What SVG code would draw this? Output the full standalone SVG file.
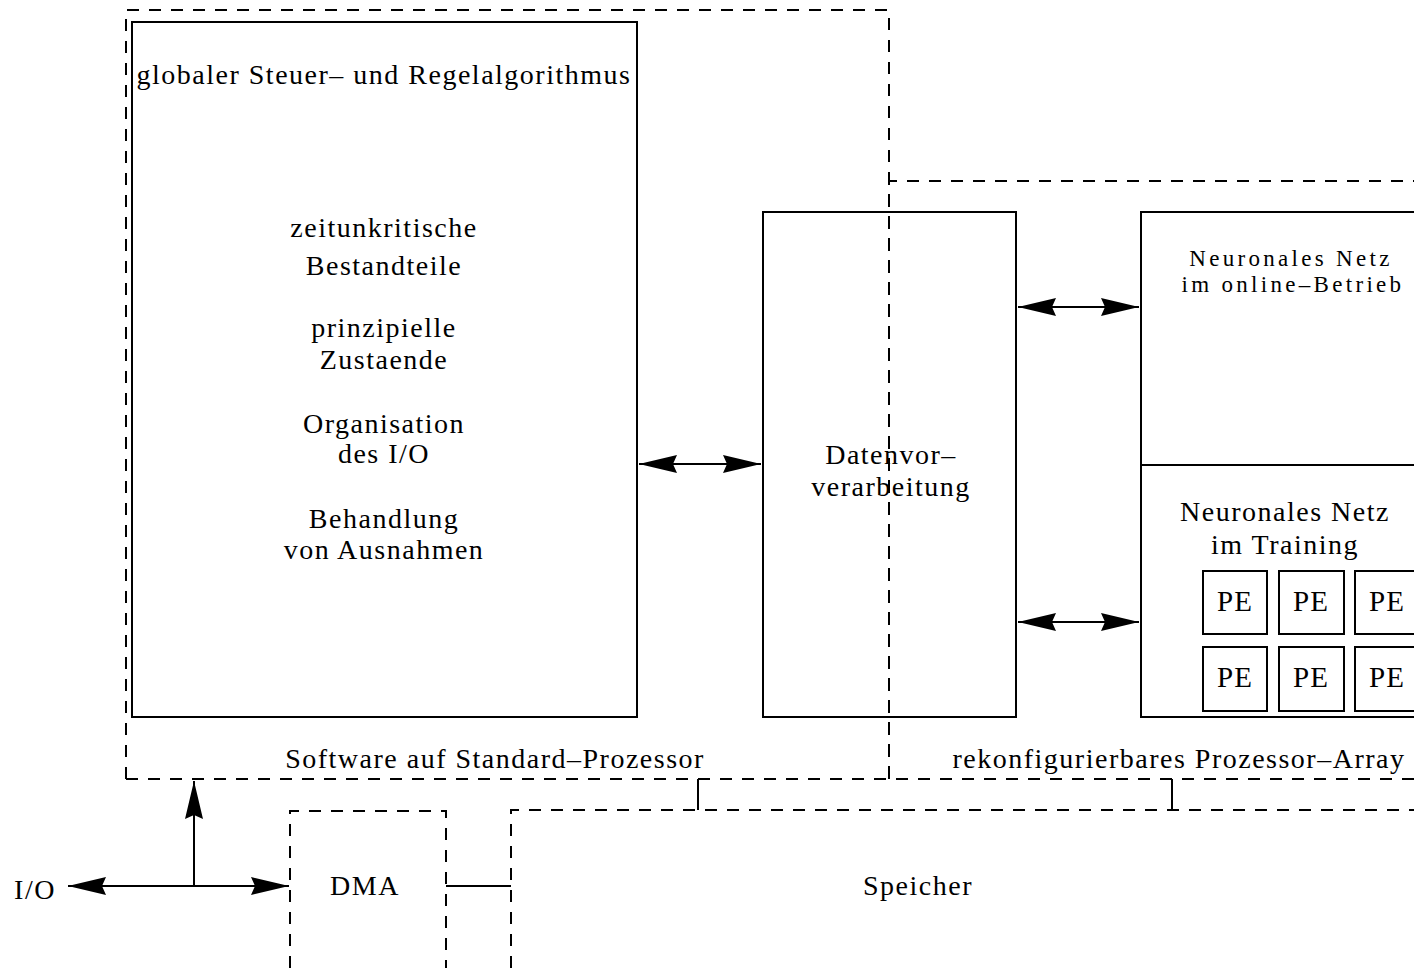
<svg xmlns="http://www.w3.org/2000/svg" width="1414" height="968" viewBox="0 0 1414 968">
<style>
.box{fill:none;stroke:#000;stroke-width:2}
.dash{fill:none;stroke:#000;stroke-width:2;stroke-dasharray:12 10}
.ln{fill:none;stroke:#000;stroke-width:2}
text{font-family:"Liberation Serif","DejaVu Serif",serif;font-size:28px;letter-spacing:1.5px;fill:#000;text-anchor:middle}
.sm{font-size:23px;letter-spacing:3.3px}
.pe{font-size:29px;letter-spacing:1px}
</style>
<defs>
<marker id="ah" viewBox="-40 -11 42 22" markerUnits="userSpaceOnUse" markerWidth="42" markerHeight="22" refX="0" refY="0" orient="auto-start-reverse">
<path d="M0,0 L-38,-9 L-34,0 L-38,9 Z" fill="#000"/>
</marker>
</defs>
<rect width="1414" height="968" fill="#fff"/>
<g id="software">
<path class="dash" d="M126,779 L126,10 L889,10 L889,779"/>
<text x="495" y="768">Software auf Standard–Prozessor</text>
</g>
<g id="array">
<path class="dash" d="M889,779 L889,181 L1414,181"/>
<path class="dash" d="M126,779 L1414,779"/>
<text x="1179" y="768">rekonfigurierbares Prozessor–Array</text>
</g>
<g id="global">
<rect class="box" x="132" y="22" width="505" height="695"/>
<text x="384" y="84">globaler Steuer– und Regelalgorithmus</text>
<text x="384" y="237">zeitunkritische</text>
<text x="384" y="275">Bestandteile</text>
<text x="384" y="337">prinzipielle</text>
<text x="384" y="369">Zustaende</text>
<text x="384" y="433">Organisation</text>
<text x="384" y="463">des I/O</text>
<text x="384" y="528">Behandlung</text>
<text x="384" y="559">von Ausnahmen</text>
</g>
<g id="daten">
<rect class="box" x="763" y="212" width="253" height="505"/>
<text x="891" y="464">Datenvor–</text>
<text x="891" y="496">verarbeitung</text>
</g>
<g id="nn">
<path class="box" d="M1416,212 L1141,212 L1141,717 L1416,717 M1141,465 L1416,465"/>
<text class="sm" x="1291" y="266">Neuronales Netz</text>
<text class="sm" x="1293" y="292">im online–Betrieb</text>
<text x="1285" y="521">Neuronales Netz</text>
<text x="1285" y="554">im Training</text>
</g>
<g id="pe">
<rect class="box" x="1203" y="571" width="64" height="63"/>
<rect class="box" x="1279" y="571" width="65" height="63"/>
<rect class="box" x="1355" y="571" width="65" height="63"/>
<rect class="box" x="1203" y="647" width="64" height="64"/>
<rect class="box" x="1279" y="647" width="65" height="64"/>
<rect class="box" x="1355" y="647" width="65" height="64"/>
<text class="pe" x="1235" y="611">PE</text>
<text class="pe" x="1311" y="611">PE</text>
<text class="pe" x="1387" y="611">PE</text>
<text class="pe" x="1235" y="687">PE</text>
<text class="pe" x="1311" y="687">PE</text>
<text class="pe" x="1387" y="687">PE</text>
</g>
<g id="dma">
<path class="dash" d="M290,968 L290,811 L446,811 L446,968"/>
<text x="365" y="895">DMA</text>
</g>
<g id="speicher">
<path class="dash" d="M511,968 L511,810 L1414,810"/>
<text x="918" y="895">Speicher</text>
</g>
<g id="io">
<text x="35" y="899">I/O</text>
</g>
<g id="connectors">
<line class="ln" x1="639" y1="464" x2="761" y2="464" marker-start="url(#ah)" marker-end="url(#ah)"/>
<line class="ln" x1="1018" y1="307" x2="1139" y2="307" marker-start="url(#ah)" marker-end="url(#ah)"/>
<line class="ln" x1="1018" y1="622" x2="1139" y2="622" marker-start="url(#ah)" marker-end="url(#ah)"/>
<line class="ln" x1="68" y1="886" x2="289" y2="886" marker-start="url(#ah)" marker-end="url(#ah)"/>
<line class="ln" x1="194" y1="886" x2="194" y2="781" marker-end="url(#ah)"/>
<line class="ln" x1="446" y1="886" x2="511" y2="886"/>
<line class="ln" x1="698" y1="779" x2="698" y2="810"/>
<line class="ln" x1="1172" y1="779" x2="1172" y2="810"/>
</g>
</svg>
